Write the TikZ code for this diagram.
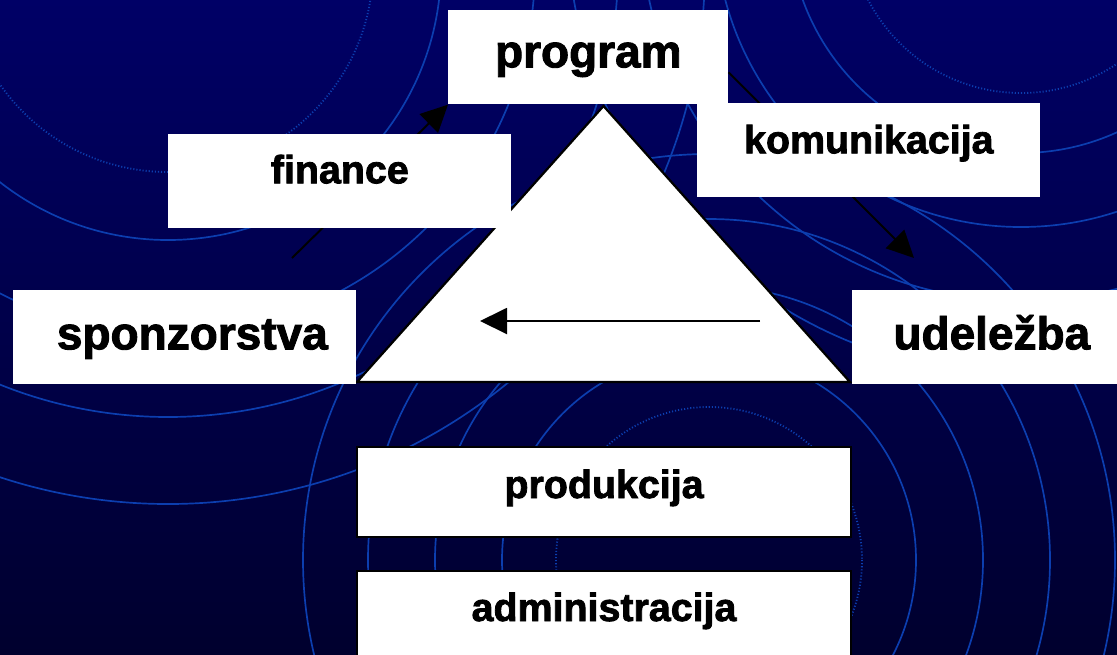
\documentclass[tikz,border=0pt]{standalone}
\usepackage{fontspec}
\setmainfont{Liberation Sans}[BoldFeatures={FakeBold=2}]
\usetikzlibrary{arrows.meta}

\definecolor{navytop}{RGB}{0,0,102}
\definecolor{navybot}{RGB}{0,0,46}
\definecolor{ringblue}{RGB}{12,62,175}

\newcommand{\lblbig}{\fontsize{32.7pt}{36pt}\selectfont\bfseries}
\newcommand{\lblsmall}{\fontsize{28pt}{32pt}\selectfont\bfseries}

\begin{document}
\begin{tikzpicture}[x=0.025cm, y=-0.025cm,
    ringline/.style={draw=ringblue, line width=1.2pt},
    ringdot/.style={draw=ringblue, line width=1.3pt, dash pattern=on 0.8pt off 1.4pt},
    box/.style={fill=white, inner sep=0pt, anchor=north west, align=center},
    boxed/.style={box, draw=black, line width=1.4pt},
    flow/.style={line width=1.4pt, -{Triangle[length=0.675cm, width=0.65cm]}}]

  \useasboundingbox (0,0) rectangle (1117,654);
  \clip (0,0) rectangle (1117,654);
  \shade[top color=navytop, bottom color=navybot] (0,0) rectangle (1117,654);

  % rings in the backdrop
  \coordinate (ca) at (168,-33);
  \coordinate (cb) at (1021,-79);
  \coordinate (cc) at (709,560);
  \draw[ringdot] (ca) circle[radius=205];
  \foreach \r in {273,367,450,537} \draw[ringline] (ca) circle[radius=\r];
  \draw[ringdot] (cb) circle[radius=172];
  \foreach \r in {232,306,380,454} \draw[ringline] (cb) circle[radius=\r];
  \draw[ringdot] (cc) circle[radius=153];
  \foreach \r in {207,274,341,406} \draw[ringline] (cc) circle[radius=\r];

  % triangle
  \coordinate (apex) at (603.5,106);
  \coordinate (baseL) at (357,382);
  \coordinate (baseR) at (850,382);
  \draw[fill=white, line width=1.6pt] (apex) -- (baseR) -- (baseL) -- cycle;

  \coordinate (retFrom) at (760,321);
  \coordinate (retTo) at (480,321);
  \draw[flow] (retFrom) -- (retTo);

  \node[box, text width=7cm, text height=1.425cm, text depth=0.925cm, font=\lblbig]
    (program) at (448,10) {program};

  \coordinate (spTail) at (292,258);
  \coordinate (udTip) at (914,258);
  \draw[flow] (spTail) -- (program.south west);
  \draw[flow] ([yshift=-0.375cm]program.east) -- (udTip);

  \node[box, text width=8.575cm, text height=1.225cm, text depth=1.125cm, font=\lblsmall]
    (finance) at (168,134) {finance};
  \node[box, text width=8.575cm, text height=1.25cm, text depth=1.1cm, font=\lblsmall]
    (komun) at (697,103) {komunikacija};
  \node[box, text width=8.575cm, text height=1.475cm, text depth=0.875cm, font=\lblbig]
    (sponz) at (13,290) {\hspace*{0.375cm}sponzorstva};
  \node[box, text width=6.975cm, text height=1.475cm, text depth=0.875cm, font=\lblbig]
    (udel) at (852,290) {udeležba};

  \node[boxed, text width=12.35cm, text height=1.275cm, text depth=0.975cm, font=\lblsmall]
    (prod) at (356,446) {produkcija};
  \node[boxed, text width=12.35cm, text height=1.25cm, text depth=2.5cm, font=\lblsmall]
    (admin) at (356,570) {administracija};

\end{tikzpicture}
\end{document}
